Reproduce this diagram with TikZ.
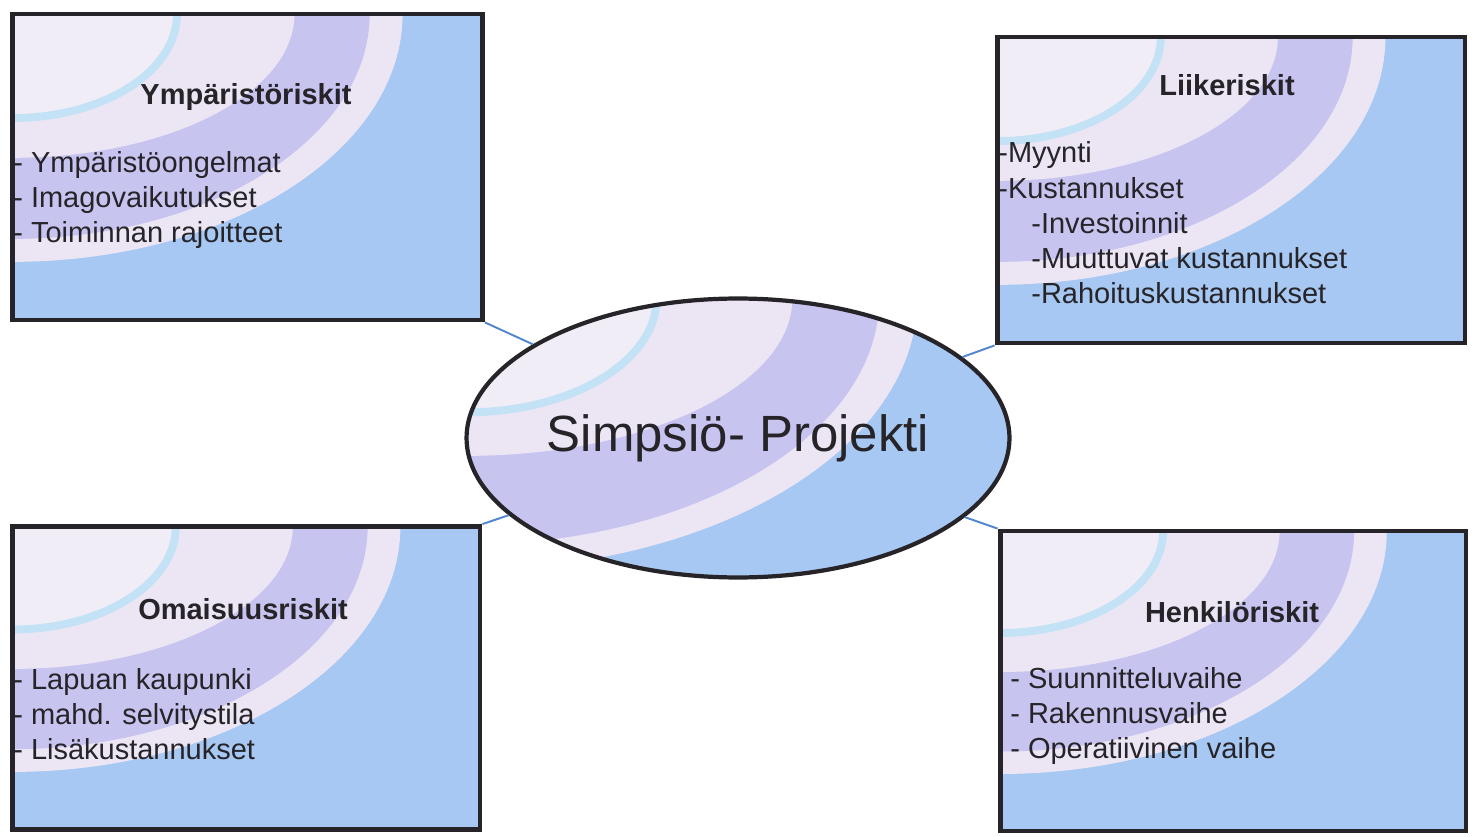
\documentclass[tikz,border=0pt]{standalone}
\usepackage{fontspec}
\setmainfont{Liberation Sans}
\usepackage{xcolor}
\definecolor{Col1}{RGB}{38,36,40}
\definecolor{Col2}{RGB}{84,134,206}
\definecolor{SkyFill}{RGB}{166,200,242}
\definecolor{LavFill}{RGB}{200,196,240}
\definecolor{PaleFill}{RGB}{236,230,244}
\definecolor{CoreFill}{RGB}{241,237,247}
\definecolor{ArcFill}{RGB}{196,226,246}
\usepackage{tikz}
\usetikzlibrary{shapes}
\usetikzlibrary{calc}
\newcommand\Swirl[1]{%
  \fill[SkyFill](path picture bounding box.south west)rectangle
    (path picture bounding box.north east);
  \foreach \col/\rx/\ry in {PaleFill/.83/.81,LavFill/.76/.735,PaleFill/.60/.47,
      CoreFill/.35/.34}{
    \fill[\col]let\p1=(path picture bounding box.north west),
      \p2=(path picture bounding box.south east)in
      (\p1)ellipse[x radius={\rx*(\x2-\x1)},y radius={#1*\ry*(\y1-\y2)}];}
  \draw[ArcFill,line width=4.5pt]let\p1=(path picture bounding box.north west),
      \p2=(path picture bounding box.south east)in
      (\p1)ellipse[x radius={.35*(\x2-\x1)},y radius={#1*.34*(\y1-\y2)}];}
\tikzstyle{RiskBox}=[draw=Col1,line width=2.8pt,inner sep=0pt,
path picture={\Swirl{1}}]
\tikzstyle{Project}=[ellipse,draw=Col1,line width=2.4pt,inner sep=0pt,
minimum width=10.86cm,minimum height=5.58cm,path picture={\Swirl{1.2}},
font=\fontsize{29}{34}\selectfont,text=Col1]
\tikzstyle{Title}=[font=\fontsize{16.5}{20}\selectfont\bfseries,text=Col1,
inner sep=0pt]
\tikzstyle{Items}=[align=left,anchor=west,inner sep=0pt,
font=\fontsize{16.5}{20.1}\selectfont,text=Col1]
\tikzstyle{Link}=[draw=Col2,line width=1.1pt]

\begin{document}
\begin{tikzpicture}[x=.02cm,y=-.02cm]
        \path[use as bounding box,fill=white](0,0)rectangle(1476,837);
        \node[RiskBox,minimum width=9.40cm,minimum height=6.12cm](env)
            at(247.5,167){};
        \node[RiskBox,minimum width=9.36cm,minimum height=6.12cm](liike)
            at(1231,190){};
        \node[RiskBox,minimum width=9.36cm,minimum height=6.06cm](omai)
            at(246,678){};
        \node[RiskBox,minimum width=9.32cm,minimum height=6.00cm](henk)
            at(1233,681){};
        \node[Project](proj)at(738,438){Simpsiö- Projekti};
        \draw[Link](env.south east)--(proj);
        \draw[Link](liike.south west)--(proj);
        \draw[Link](omai.north east)--(proj);
        \draw[Link](henk.north west)--(proj);
        \node[Title](envT)at(246,97){Ympäristöriskit};
        \node[Items](envL)at(13,200){- Ympäristöongelmat\\
            - Imagovaikutukset\\- Toiminnan rajoitteet};
        \node[Title](liikeT)at(1227,85){Liikeriskit};
        \node[Items](liikeL)at(998,223){-Myynti\\-Kustannukset\\
            \hspace*{.66cm}-Investoinnit\\
            \hspace*{.66cm}-Muuttuvat kustannukset\\
            \hspace*{.66cm}-Rahoituskustannukset};
        \node[Title](omaiT)at(243,609){Omaisuusriskit};
        \node[Items](omaiL)at(13,714){- Lapuan kaupunki\\
            - mahd. selvitystila\\- Lisäkustannukset};
        \node[Title](henkT)at(1232,612){Henkilöriskit};
        \node[Items](henkL)at(1010,716){- Suunnitteluvaihe\\
            - Rakennusvaihe\\- Operatiivinen vaihe};
    \end{tikzpicture}
\end{document}
